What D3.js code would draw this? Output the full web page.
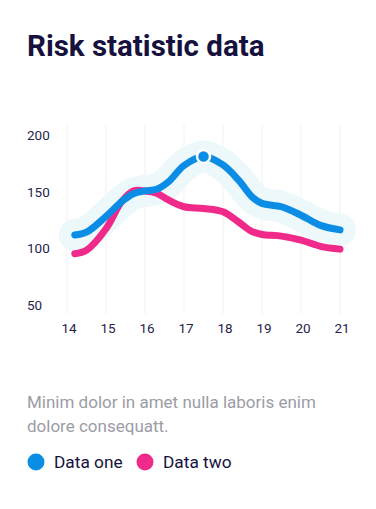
<!DOCTYPE html>
<html>
<head>
<meta charset="utf-8">
<script src="https://cdn.jsdelivr.net/npm/d3@7"></script>
<style>
  body { margin: 0; background: #fff; font-family: Roboto, sans-serif; }
</style>
</head>
<body>
<svg width="376" height="509"></svg>
<script>
// chart data
var xTicks = [14, 15, 16, 17, 18, 19, 20, 21];
var yTicks = [50, 100, 150, 200];
var xs = [14.2, 14.5, 15, 15.4, 15.7, 16, 16.3, 16.6, 17, 17.5, 18, 18.4, 18.75, 19, 19.5, 20, 20.5, 21];
var dataOne = [111.5, 114, 128, 141, 148, 150.5, 152, 158.5, 173, 181, 173.5, 160, 145, 139.5, 136.5, 129, 120, 116];
var dataTwo = [95, 98, 117, 141, 150.5, 150.5, 148.5, 142.5, 136.5, 135, 132, 123, 114.5, 112, 110.5, 107, 101.5, 99];
var peakIndex = 9;
var legendNames = ["Data one", "Data two"];
var colors = ["#0b8de6", "#f02a8a"];

var svg = d3.select("svg");

// title
svg.append("text")
    .attr("x", 27).attr("y", 56)
    .attr("font-size", 29.5).attr("font-weight", 700)
    .attr("fill", "#16123d")
    .text("Risk statistic data");

var x = d3.scaleLinear().domain([14, 21]).range([67, 340]);
var y = d3.scaleLinear().domain([50, 200]).range([304.5, 135]);

// vertical grid
svg.append("g")
    .selectAll("line")
    .data(xTicks)
    .enter().append("line")
    .attr("x1", d => x(d)).attr("x2", d => x(d))
    .attr("y1", 125).attr("y2", 314)
    .attr("stroke", "#f1f1f3").attr("stroke-width", 1);

// y labels
svg.append("g")
    .selectAll("text")
    .data(yTicks)
    .enter().append("text")
    .attr("x", 27).attr("y", d => y(d) + 5)
    .attr("font-size", 13.5).attr("fill", "#26244a")
    .text(d => d);

// x labels
svg.append("g")
    .selectAll("text")
    .data(xTicks)
    .enter().append("text")
    .attr("x", d => x(d) + 2).attr("y", 333)
    .attr("text-anchor", "middle")
    .attr("font-size", 13.5).attr("fill", "#26244a")
    .text(d => d);

var line = d3.line()
    .x((d, i) => x(xs[i]))
    .y(d => y(d))
    .curve(d3.curveCatmullRom.alpha(0.5));

// halo behind series one
svg.append("path")
    .attr("d", line(dataOne))
    .attr("fill", "none")
    .attr("stroke", "#edf8fb")
    .attr("stroke-width", 32)
    .attr("stroke-linecap", "round")
    .attr("stroke-linejoin", "round");

svg.append("path")
    .attr("d", line(dataTwo))
    .attr("fill", "none")
    .attr("stroke", colors[1])
    .attr("stroke-width", 7)
    .attr("stroke-linecap", "round");

svg.append("path")
    .attr("d", line(dataOne))
    .attr("fill", "none")
    .attr("stroke", colors[0])
    .attr("stroke-width", 7)
    .attr("stroke-linecap", "round");

// peak marker
svg.append("circle")
    .attr("cx", x(xs[peakIndex])).attr("cy", y(dataOne[peakIndex]))
    .attr("r", 6.5)
    .attr("fill", colors[0])
    .attr("stroke", "#fff").attr("stroke-width", 2.5);

// description
var desc = svg.append("text")
    .attr("font-size", 17).attr("fill", "#9c9ca6");
desc.append("tspan").attr("x", 27).attr("y", 407.5).text("Minim dolor in amet nulla laboris enim");
desc.append("tspan").attr("x", 27).attr("y", 432).text("dolore consequatt.");

// legend
var legendX = [36, 145];
var legend = svg.append("g")
    .selectAll("g")
    .data(legendNames)
    .enter().append("g");
legend.append("circle")
    .attr("cx", (d, i) => legendX[i]).attr("cy", 462)
    .attr("r", 8.5)
    .attr("fill", (d, i) => colors[i]);
legend.append("text")
    .attr("x", (d, i) => legendX[i] + 18).attr("y", 467.5)
    .attr("font-size", 17.3).attr("fill", "#16123d")
    .text(d => d);
</script>
</body>
</html>
